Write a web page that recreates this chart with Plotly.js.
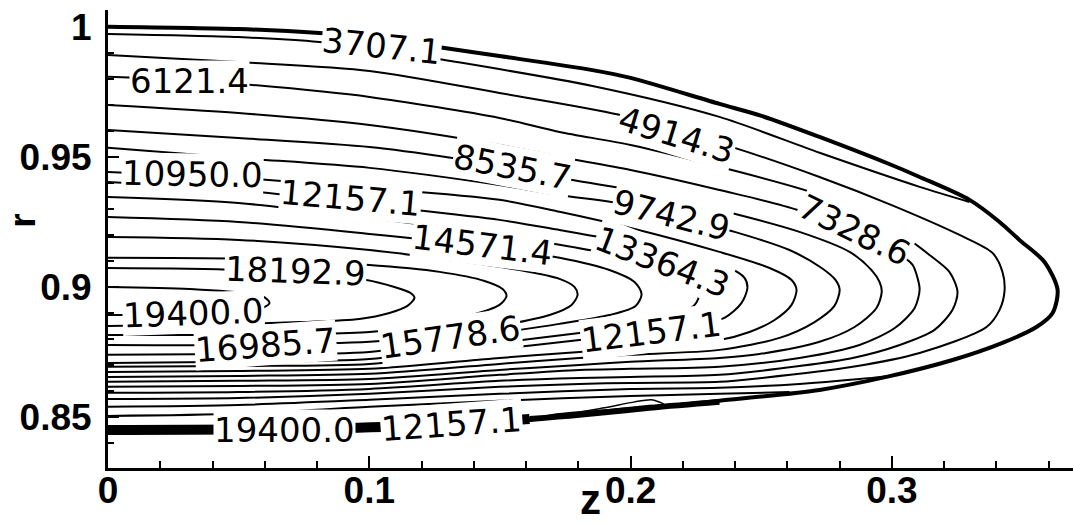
<!DOCTYPE html>
<html><head><meta charset="utf-8">
<script src="https://cdn.plot.ly/plotly-3.0.1.min.js"></script>
<style>html,body{margin:0;padding:0;background:#fff}#chart{width:1073px;height:526px}</style>
</head><body><div id="chart"></div>
<script>
// contour levels (each closed loop: top branch from z=0 -> nose -> bottom branch back to z=0)
const loopLevels = [19400.0, 18192.9, 16985.7, 15778.6, 14571.4, 13364.3, 12157.1, 10950.0, 9742.9, 8535.7, 7328.6, 6121.4, 4914.3];
const loopZ = [
 [0, 0.0312, 0.0591, 0.0618, 0.0561, 0.0312, 0],
 [0, 0.0499, 0.0989, 0.1096, 0.1158, 0.1173, 0.1146, 0.1077, 0.0962, 0.0733, 0.0499, 0],
 [0, 0.0499, 0.0989, 0.1269, 0.1441, 0.1510, 0.1525, 0.1498, 0.1383, 0.1192, 0.1001, 0.0733, 0.0499, 0],
 [0, 0.0499, 0.1001, 0.1306, 0.1575, 0.1728, 0.1785, 0.1797, 0.1774, 0.1690, 0.1498, 0.1306, 0.1001, 0.0499, 0],
 [0, 0.0499, 0.1001, 0.1421, 0.1728, 0.1919, 0.2015, 0.2042, 0.2019, 0.1919, 0.1728, 0.1498, 0.1001, 0.0499, 0],
 [0, 0.0499, 0.1001, 0.1498, 0.1728, 0.1996, 0.2168, 0.2245, 0.2264, 0.2245, 0.2149, 0.1996, 0.1804, 0.1498, 0.1001, 0.0499, 0],
 [0, 0.0499, 0.1001, 0.1498, 0.1728, 0.2000, 0.2225, 0.2378, 0.2436, 0.2447, 0.2424, 0.2359, 0.2225, 0.2072, 0.1804, 0.1498, 0.1001, 0.0499, 0],
 [0, 0.0499, 0.1001, 0.1498, 0.1728, 0.2000, 0.2340, 0.2532, 0.2616, 0.2635, 0.2616, 0.2551, 0.2455, 0.2340, 0.2000, 0.1804, 0.1498, 0.1001, 0.0499, 0],
 [0, 0.0499, 0.1001, 0.1498, 0.1728, 0.2000, 0.2161, 0.2398, 0.2608, 0.2731, 0.2784, 0.2800, 0.2780, 0.2704, 0.2570, 0.2340, 0.2000, 0.1804, 0.1498, 0.1001, 0.0499, 0],
 [0, 0.0499, 0.1001, 0.1318, 0.1548, 0.1778, 0.2000, 0.2340, 0.2646, 0.2838, 0.2922, 0.2953, 0.2961, 0.2941, 0.2857, 0.2723, 0.2493, 0.2340, 0.2000, 0.1804, 0.1498, 0.1001, 0.0499, 0],
 [0, 0.0499, 0.1001, 0.1498, 0.1728, 0.2000, 0.2340, 0.2639, 0.2861, 0.3030, 0.3079, 0.3098, 0.3106, 0.3087, 0.3011, 0.2876, 0.2646, 0.2340, 0.2000, 0.1804, 0.1498, 0.1001, 0.0499, 0],
 [0, 0.0300, 0.0553, 0.1001, 0.1498, 0.1728, 0.2000, 0.2340, 0.2723, 0.2999, 0.3144, 0.3220, 0.3251, 0.3232, 0.3163, 0.3030, 0.2850, 0.2646, 0.2340, 0.2000, 0.1804, 0.1498, 0.1001, 0.0499, 0],
 [0, 0.0499, 0.1001, 0.1498, 0.1957, 0.2398, 0.2723, 0.2999, 0.3259, 0.3385, 0.3423, 0.3431, 0.3412, 0.3362, 0.3106, 0.2850, 0.2501, 0.2340, 0.2000, 0.1804, 0.1498, 0.1001, 0.0499, 0]
];
const loopR = [
 [0.8999, 0.8991, 0.8964, 0.8937, 0.8907, 0.8895, 0.8891],
 [0.9072, 0.9064, 0.9026, 0.8999, 0.8976, 0.8957, 0.8926, 0.8899, 0.8876, 0.8864, 0.8857, 0.8849],
 [0.9111, 0.9107, 0.9084, 0.9057, 0.9022, 0.8991, 0.8964, 0.8930, 0.8888, 0.8849, 0.8826, 0.8818, 0.8814, 0.8814],
 [0.9191, 0.9180, 0.9141, 0.9103, 0.9064, 0.9030, 0.8999, 0.8968, 0.8930, 0.8891, 0.8849, 0.8818, 0.8788, 0.8776, 0.8776],
 [0.9268, 0.9249, 0.9203, 0.9157, 0.9111, 0.9064, 0.9018, 0.8972, 0.8926, 0.8891, 0.8857, 0.8822, 0.8749, 0.8741, 0.8738],
 [0.9345, 0.9322, 0.9264, 0.9199, 0.9161, 0.9111, 0.9064, 0.9018, 0.8976, 0.8930, 0.8880, 0.8849, 0.8822, 0.8784, 0.8722, 0.8711, 0.8707],
 [0.9403, 0.9372, 0.9314, 0.9257, 0.9218, 0.9168, 0.9114, 0.9072, 0.9034, 0.8995, 0.8937, 0.8880, 0.8849, 0.8830, 0.8795, 0.8761, 0.8703, 0.8695, 0.8692],
 [0.9441, 0.9418, 0.9380, 0.9334, 0.9288, 0.9226, 0.9134, 0.9072, 0.9026, 0.8988, 0.8930, 0.8872, 0.8826, 0.8795, 0.8764, 0.8749, 0.8726, 0.8684, 0.8676, 0.8672],
 [0.9534, 0.9495, 0.9457, 0.9391, 0.9353, 0.9314, 0.9272, 0.9211, 0.9141, 0.9072, 0.9026, 0.8988, 0.8926, 0.8864, 0.8803, 0.8757, 0.8738, 0.8726, 0.8703, 0.8665, 0.8657, 0.8653],
 [0.9603, 0.9572, 0.9537, 0.9495, 0.9457, 0.9410, 0.9372, 0.9295, 0.9211, 0.9134, 0.9064, 0.9018, 0.8980, 0.8918, 0.8845, 0.8788, 0.8741, 0.8726, 0.8711, 0.8699, 0.8680, 0.8645, 0.8638, 0.8634],
 [0.9699, 0.9668, 0.9622, 0.9545, 0.9499, 0.9449, 0.9372, 0.9295, 0.9199, 0.9122, 0.9084, 0.9034, 0.8988, 0.8918, 0.8841, 0.8776, 0.8726, 0.8692, 0.8684, 0.8680, 0.8661, 0.8626, 0.8618, 0.8615],
 [0.9807, 0.9795, 0.9776, 0.9730, 0.9649, 0.9595, 0.9545, 0.9461, 0.9353, 0.9226, 0.9122, 0.9057, 0.8980, 0.8911, 0.8834, 0.8776, 0.8726, 0.8695, 0.8661, 0.8653, 0.8649, 0.8638, 0.8607, 0.8595, 0.8592],
 [0.9891, 0.9864, 0.9830, 0.9745, 0.9661, 0.9534, 0.9422, 0.9314, 0.9199, 0.9130, 0.9057, 0.8984, 0.8911, 0.8845, 0.8745, 0.8692, 0.8649, 0.8634, 0.8630, 0.8626, 0.8615, 0.8588, 0.8572, 0.8568]
];
// open branches that run into the domain boundary
const c3707TopZ = [0, 0.0499, 0.0809, 0.1051, 0.1288, 0.1854, 0.2340, 0.2723, 0.3106, 0.3297];
const c3707TopR = [0.9972, 0.9960, 0.9941, 0.9910, 0.9872, 0.9772, 0.9653, 0.9515, 0.9384, 0.9326];
const c3707BotZ = [0, 0.0499, 0.1001, 0.1498, 0.2000, 0.2340, 0.2646, 0.2876, 0.2991];
const c3707BotR = [0.8538, 0.8545, 0.8565, 0.8588, 0.8607, 0.8611, 0.8626, 0.8645, 0.8657];
const c2500BotZ = [0, 0.0499, 0.1001, 0.1498, 0.2000, 0.2340, 0.2608];
const c2500BotR = [0.8503, 0.8511, 0.8538, 0.8561, 0.8580, 0.8588, 0.8595];
// domain boundary (thick)
const boundZ = [0, 0.0499, 0.0809, 0.1001, 0.1288, 0.1498, 0.1854, 0.2000, 0.2340, 0.2501, 0.2723, 0.2999, 0.3106, 0.3297, 0.3412, 0.3488, 0.3584, 0.3634, 0.3615, 0.3553, 0.3423, 0.3232, 0.2979, 0.2723, 0.2340, 0.2072, 0.1728, 0.1613, 0.1051, 0.0408, 0];
const boundR = [1.0000, 0.9991, 0.9976, 0.9960, 0.9918, 0.9887, 0.9833, 0.9803, 0.9703, 0.9657, 0.9576, 0.9468, 0.9422, 0.9334, 0.9249, 0.9180, 0.9095, 0.8988, 0.8899, 0.8845, 0.8784, 0.8718, 0.8653, 0.8603, 0.8561, 0.8534, 0.8507, 0.8488, 0.8468, 0.8453, 0.8445];
const bandZ = [0, 0.1051, 0.1613];
const bandR = [0.8449, 0.8460, 0.8491];
const band2Z = [0.1613, 0.1804, 0.2072, 0.2340];
const band2R = [0.8491, 0.8507, 0.8534, 0.8557];
const tangleZ = [0.1766, 0.1900, 0.2015, 0.2080, 0.2126, 0.2053, 0.1938, 0.1824];
const tangleR = [0.8511, 0.8534, 0.8557, 0.8565, 0.8549, 0.8538, 0.8526, 0.8515];
// contour labels
const labelText = ['3707.1','6121.4','4914.3','10950.0','8535.7','12157.1','9742.9','7328.6','14571.4','13364.3','18192.9','19400.0','16985.7','15778.6','12157.1','19400.0','12157.1'];
const labelZ = [0.1047, 0.0312, 0.2176, 0.0323, 0.1548, 0.0928, 0.2157, 0.2857, 0.1433, 0.2122, 0.0718, 0.0327, 0.0603, 0.1311, 0.2080, 0.0676, 0.1315];
const labelR = [0.9926, 0.9791, 0.9583, 0.9434, 0.9460, 0.9341, 0.9276, 0.9218, 0.9160, 0.9095, 0.9060, 0.8899, 0.8776, 0.8807, 0.8826, 0.8449, 0.8472];
const labelAngle = [6, 0, 17, 1, 11, 5, 14, 26, 7, 21, 2, -2, -4, -8, -7, 0, -4];
const xTicks = [0, 0.1, 0.2, 0.3];
const yTicks = [0.85, 0.9, 0.95, 1];
const yTickText = ['0.85', '0.9', '0.95', '1'];

const traces = [];
const thin = {color:'#000', width:2, shape:'spline', smoothing:0.8};
loopZ.forEach((zs,i)=>traces.push({type:'scatter',mode:'lines',x:zs,y:loopR[i],line:thin,name:String(loopLevels[i])}));
traces.push({type:'scatter',mode:'lines',x:c3707TopZ,y:c3707TopR,line:thin});
traces.push({type:'scatter',mode:'lines',x:c3707BotZ,y:c3707BotR,line:thin});
traces.push({type:'scatter',mode:'lines',x:c2500BotZ,y:c2500BotR,line:thin});
traces.push({type:'scatter',mode:'lines',x:tangleZ.concat([tangleZ[0]]),y:tangleR.concat([tangleR[0]]),line:{color:'#000',width:1.5,shape:'spline',smoothing:0.6}});
traces.push({type:'scatter',mode:'lines',x:boundZ,y:boundR,line:{color:'#000',width:4,shape:'spline',smoothing:0.8}});
traces.push({type:'scatter',mode:'lines',x:bandZ,y:bandR,line:{color:'#000',width:10,shape:'spline'}});
traces.push({type:'scatter',mode:'lines',x:band2Z,y:band2R,line:{color:'#000',width:6,shape:'spline'}});

const annotations = labelText.map((t,i)=>({
  x:labelZ[i], y:labelR[i], xref:'x', yref:'y', text:t, showarrow:false,
  textangle:labelAngle[i], bgcolor:'#fff', borderpad:0,
  font:{family:'DejaVu Sans', size:34, color:'#000'}
}));
annotations.push({x:0.5, y:-0.124, xref:'paper', yref:'paper', text:'<b>z</b>', showarrow:false,
  font:{family:'Liberation Sans, Arial', size:42, color:'#000'}, xanchor:'center', yanchor:'bottom'});
annotations.push({x:-0.088, y:0.54, xref:'paper', yref:'paper', text:'<b>r</b>', showarrow:false, textangle:-90,
  font:{family:'Liberation Sans, Arial', size:37, color:'#000'}, xanchor:'center', yanchor:'middle'});

const layout = {
  width:1073, height:526, showlegend:false, hovermode:false,
  paper_bgcolor:'#fff', plot_bgcolor:'#fff',
  margin:{l:108, r:0, t:10, b:58},
  xaxis:{range:[0,0.3693], tickvals:xTicks, ticktext:xTicks.map(String), ticks:'inside', ticklen:12, tickwidth:2, tickcolor:'#000',
    showline:true, linewidth:3, linecolor:'#000', showgrid:false, zeroline:false, ticklabelstandoff:-12,
    minor:{dtick:0.02, ticks:'inside', ticklen:7, tickwidth:2, tickcolor:'#000', showgrid:false},
    tickfont:{family:'Liberation Sans, Arial', size:37, color:'#000', weight:'bold'}},
  yaxis:{range:[0.83027,1.00642], tickvals:yTicks, ticktext:yTickText, ticks:'inside', ticklen:11, tickwidth:2, tickcolor:'#000',
    showline:true, linewidth:3, linecolor:'#000', showgrid:false, zeroline:false, ticklabelstandoff:6,
    minor:{dtick:0.01, ticks:'inside', ticklen:6, tickwidth:2, tickcolor:'#000', showgrid:false},
    tickfont:{family:'Liberation Sans, Arial', size:37, color:'#000', weight:'bold'}},
  annotations:annotations
};
Plotly.newPlot('chart', traces, layout, {staticPlot:true, displayModeBar:false});
</script></body></html>
